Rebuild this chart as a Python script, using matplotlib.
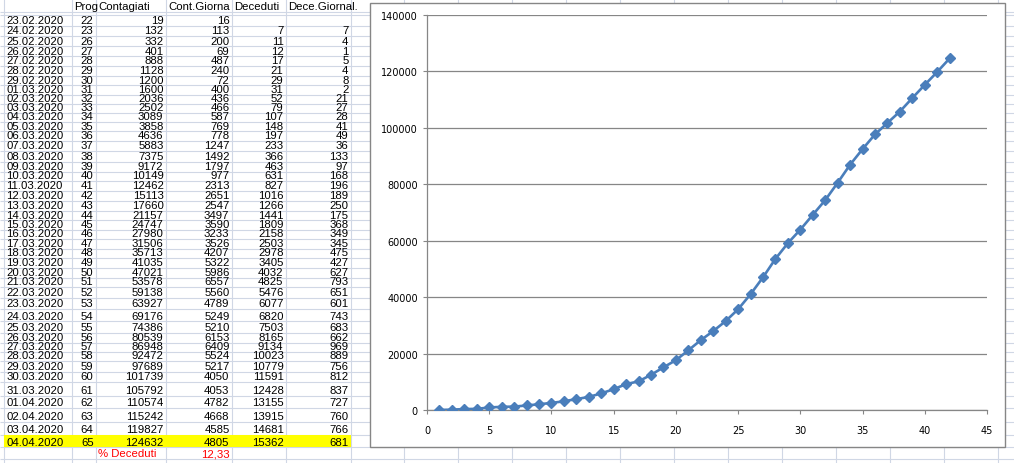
import matplotlib.pyplot as plt
from matplotlib.patches import Rectangle

dates = ['23.02.2020', '24.02.2020', '25.02.2020', '26.02.2020', '27.02.2020', '28.02.2020',
         '29.02.2020', '01.03.2020', '02.03.2020', '03.03.2020', '04.03.2020', '05.03.2020',
         '06.03.2020', '07.03.2020', '08.03.2020', '09.03.2020', '10.03.2020', '11.03.2020',
         '12.03.2020', '13.03.2020', '14.03.2020', '15.03.2020', '16.03.2020', '17.03.2020',
         '18.03.2020', '19.03.2020', '20.03.2020', '21.03.2020', '22.03.2020', '23.03.2020',
         '24.03.2020', '25.03.2020', '26.03.2020', '27.03.2020', '28.03.2020', '29.03.2020',
         '30.03.2020', '31.03.2020', '01.04.2020', '02.04.2020', '03.04.2020', '04.04.2020']
prog = [22, 23, 26, 27, 28, 29, 30, 31, 32, 33, 34, 35, 36, 37, 38, 39, 40, 41, 42, 43, 44,
        45, 46, 47, 48, 49, 50, 51, 52, 53, 54, 55, 56, 57, 58, 59, 60, 61, 62, 63, 64, 65]
contagiati = [19, 132, 332, 401, 888, 1128, 1200, 1600, 2036, 2502, 3089, 3858, 4636, 5883,
              7375, 9172, 10149, 12462, 15113, 17660, 21157, 24747, 27980, 31506, 35713,
              41035, 47021, 53578, 59138, 63927, 69176, 74386, 80539, 86948, 92472, 97689,
              101739, 105792, 110574, 115242, 119827, 124632]
cont_giorn = [16, 113, 200, 69, 487, 240, 72, 400, 436, 466, 587, 769, 778, 1247, 1492, 1797,
              977, 2313, 2651, 2547, 3497, 3590, 3233, 3526, 4207, 5322, 5986, 6557, 5560,
              4789, 5249, 5210, 6153, 6409, 5524, 5217, 4050, 4053, 4782, 4668, 4585, 4805]
deceduti = [None, 7, 11, 12, 17, 21, 29, 31, 52, 79, 107, 148, 197, 233, 366, 463, 631, 827,
            1016, 1266, 1441, 1809, 2158, 2503, 2978, 3405, 4032, 4825, 5476, 6077, 6820,
            7503, 8165, 9134, 10023, 10779, 11591, 12428, 13155, 13915, 14681, 15362]
dece_giorn = [None, 7, 4, 1, 5, 4, 8, 2, 21, 27, 28, 41, 49, 36, 133, 97, 168, 196, 189, 250,
              175, 368, 349, 345, 475, 427, 627, 793, 651, 601, 743, 683, 662, 969, 889, 756,
              812, 837, 727, 760, 766, 681]
headers = ['', 'Prog', 'Contagiati', 'Cont.Giorna', 'Deceduti', 'Dece.Giornal.']
pct_label = '% Deceduti'
pct_value = '12,33'

# sheet layout in pixels
W, H = 1014, 464
GRID = '#d0d7e5'
col_edges = [4, 72, 96, 166, 232, 286, 351]
row_edges = [15.5, 27, 37, 47.2, 57.2, 67, 76.7, 86.2, 95.5, 104.7, 113.8, 123, 132.3, 141.7,
             152, 163, 172.5, 181.8, 191.7, 201.8, 211.8, 221.3, 230.5, 240, 249.5, 259, 269,
             278.5, 288, 298.5, 309.8, 322.3, 334, 343.5, 352.5, 362, 373, 383, 396.7, 409,
             422.7, 436, 448.3]
FONT = ['Liberation Sans', 'DejaVu Sans']

fig = plt.figure(figsize=(W / 100, H / 100), dpi=100)
sheet = fig.add_axes([0, 0, 1, 1])
sheet.set_xlim(0, W)
sheet.set_ylim(H, 0)
sheet.axis('off')

sheet.hlines([12.5] + row_edges + [460], 0, W, color=GRID, lw=0.8, zorder=1)
sheet.vlines(col_edges + list(range(404, W, 54)), 0, H, color=GRID, lw=0.8, zorder=1)
sheet.add_patch(Rectangle((col_edges[0], row_edges[-2]), col_edges[-1] - col_edges[0],
                          row_edges[-1] - row_edges[-2], fc='#ffff00', ec='none', zorder=2))


def cell(text, col, bottom, align='right', color='black'):
    x0, x1 = col_edges[col], col_edges[col + 1]
    x = x0 + 2.5 if align == 'left' else x1 - 2.5
    sheet.text(x, bottom - 2.5, text, ha=align, va='baseline', fontsize=8.2,
               color=color, family=FONT, zorder=3)


for i, h in enumerate(headers):
    if h:
        cell(h, i, 12.5, align='left')

for i in range(len(dates)):
    bottom = row_edges[i + 1]
    cell(dates[i], 0, bottom, align='left')
    cell(str(prog[i]), 1, bottom)
    cell(str(contagiati[i]), 2, bottom)
    cell(str(cont_giorn[i]), 3, bottom)
    if deceduti[i] is not None:
        cell(str(deceduti[i]), 4, bottom)
        cell(str(dece_giorn[i]), 5, bottom)

cell(pct_label, 2, 460, align='left', color='red')
cell(pct_value, 3, 460, color='red')

# chart
sheet.add_patch(Rectangle((370, 4), 635, 444, fc='white', ec='#868686', lw=1, zorder=4))
ax = fig.add_axes([427 / W, 1 - 411 / H, 560 / W, 395 / H])
ax.patch.set_alpha(0)
days = range(1, len(contagiati) + 1)
ax.plot(days, contagiati, color='#4a7ebb', lw=1.9, marker='D', ms=5.5, zorder=3)
ax.set_xlim(0, 45)
ax.set_ylim(0, 140000)
ax.set_xticks(range(0, 46, 5))
ax.set_yticks(range(0, 140001, 20000))
ax.grid(axis='y', color='#868686', lw=0.9)
ax.set_axisbelow(True)
for s in ['top', 'right']:
    ax.spines[s].set_visible(False)
for s in ['left', 'bottom']:
    ax.spines[s].set_color('#868686')
    ax.spines[s].set_linewidth(0.9)
ax.tick_params(axis='y', length=3, color='#868686', pad=3.5, labelsize=7)
ax.tick_params(axis='x', length=3, color='#868686', pad=8, labelsize=7)

fig.savefig('out.png', dpi=100)
